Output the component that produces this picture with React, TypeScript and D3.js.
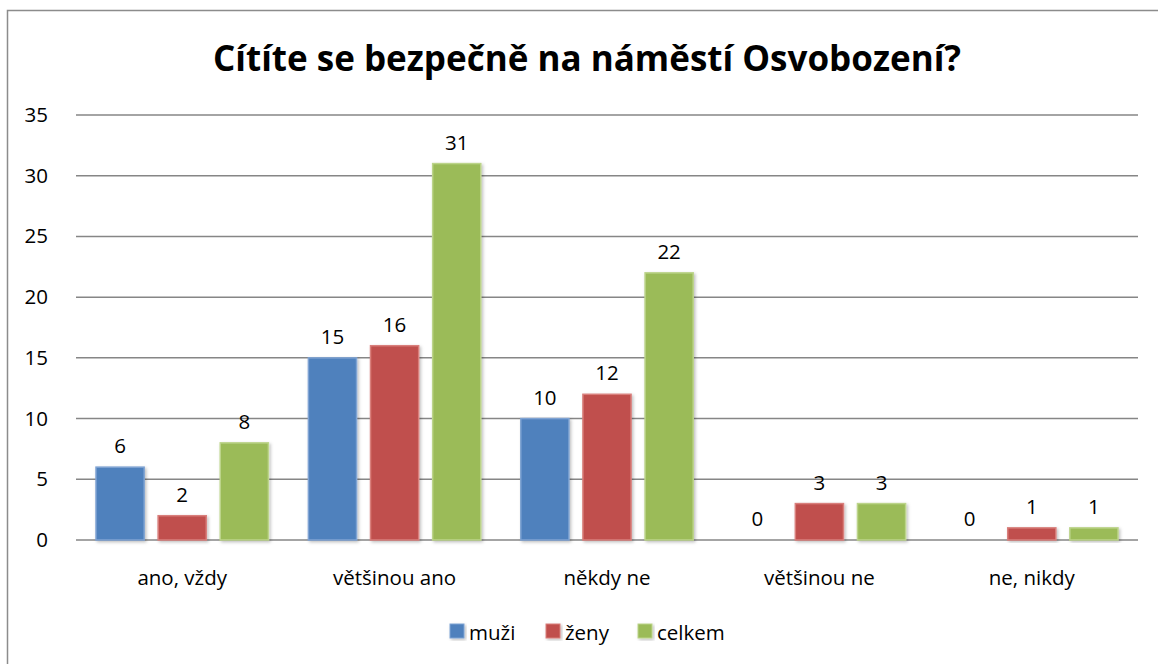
import React from 'react';
import * as d3 from 'd3';

const categories = ['ano, vždy', 'většinou ano', 'někdy ne', 'většinou ne', 'ne, nikdy'];
const seriesNames = ['muži', 'ženy', 'celkem'];
const muzi = [6, 15, 10, 0, 0];
const zeny = [2, 16, 12, 3, 1];
const celkem = [8, 31, 22, 3, 1];
const yTicks = [0, 5, 10, 15, 20, 25, 30, 35];
const colors = ['#4F81BD', '#C0504D', '#9BBB59'];
const borders = ['#7FA3D3', '#D97F7C', '#BCD48A'];

const W = 1158;
const H = 664;
const font = '"Open Sans", Lato, sans-serif';

export default function App() {
  const series = [muzi, zeny, celkem];
  const left = 76, right = 1138, top = 115, bottom = 540;

  const x = d3.scaleBand().domain(categories).range([left, right]).paddingInner(0).paddingOuter(0);
  const xs = d3.scaleBand().domain(seriesNames).range([20, x.bandwidth() - 20]).paddingInner(0.225).paddingOuter(0);
  const y = d3.scaleLinear().domain([0, 35]).range([bottom, top]);

  return (
    <svg width={W} height={H} style={{ position: 'absolute', left: 0, top: 0 }}>
      <defs>
        <filter id="sh" x="-20%" y="-20%" width="140%" height="140%">
          <feDropShadow dx="1.5" dy="1.5" stdDeviation="1.5" floodColor="#000" floodOpacity="0.25" />
        </filter>
      </defs>
      <rect x={0} y={0} width={W} height={H} fill="#fff" />
      <rect x={7.5} y={10.5} width={1200} height={700} fill="#fff" stroke="#8c8c8c" strokeWidth={1.5} />
      <text x={587} y={71} textAnchor="middle" fontFamily={font} fontWeight="bold" fontSize={35} fill="#000">
        Cítíte se bezpečně na náměstí Osvobození?
      </text>
      {yTicks.map(t => (
        <g key={t}>
          <line x1={left} x2={right} y1={y(t)} y2={y(t)} stroke="#868686" strokeWidth={1.5} />
          <text x={48} y={y(t) + 7} textAnchor="end" fontFamily={font} fontSize={20.5} fill="#000">{t}</text>
        </g>
      ))}
      {categories.map((c, i) => (
        <g key={c}>
          {series.map((s, j) => {
            const bx = (x(c) as number) + (xs(seriesNames[j]) as number);
            const v = s[i];
            return (
              <g key={j}>
                {v > 0 && (
                  <rect x={bx} y={y(v)} width={xs.bandwidth()} height={y(0) - y(v)}
                    fill={colors[j]} stroke={borders[j]} strokeWidth={1.5} filter="url(#sh)" />
                )}
                <text x={bx + xs.bandwidth() / 2} y={y(v) - 14} textAnchor="middle" fontFamily={font} fontSize={20.5} fill="#000">{v}</text>
              </g>
            );
          })}
          <text x={(x(c) as number) + x.bandwidth() / 2} y={585} textAnchor="middle" fontFamily={font} fontSize={20.5} fill="#000">{c}</text>
        </g>
      ))}
      {seriesNames.map((n, j) => {
        const lx = [450, 546, 638][j];
        return (
          <g key={n}>
            <rect x={lx} y={624} width={14} height={14} fill={colors[j]} stroke={borders[j]} strokeWidth={1} filter="url(#sh)" />
            <text x={lx + 19} y={640} fontFamily={font} fontSize={20.5} fill="#000">{n}</text>
          </g>
        );
      })}
    </svg>
  );
}
